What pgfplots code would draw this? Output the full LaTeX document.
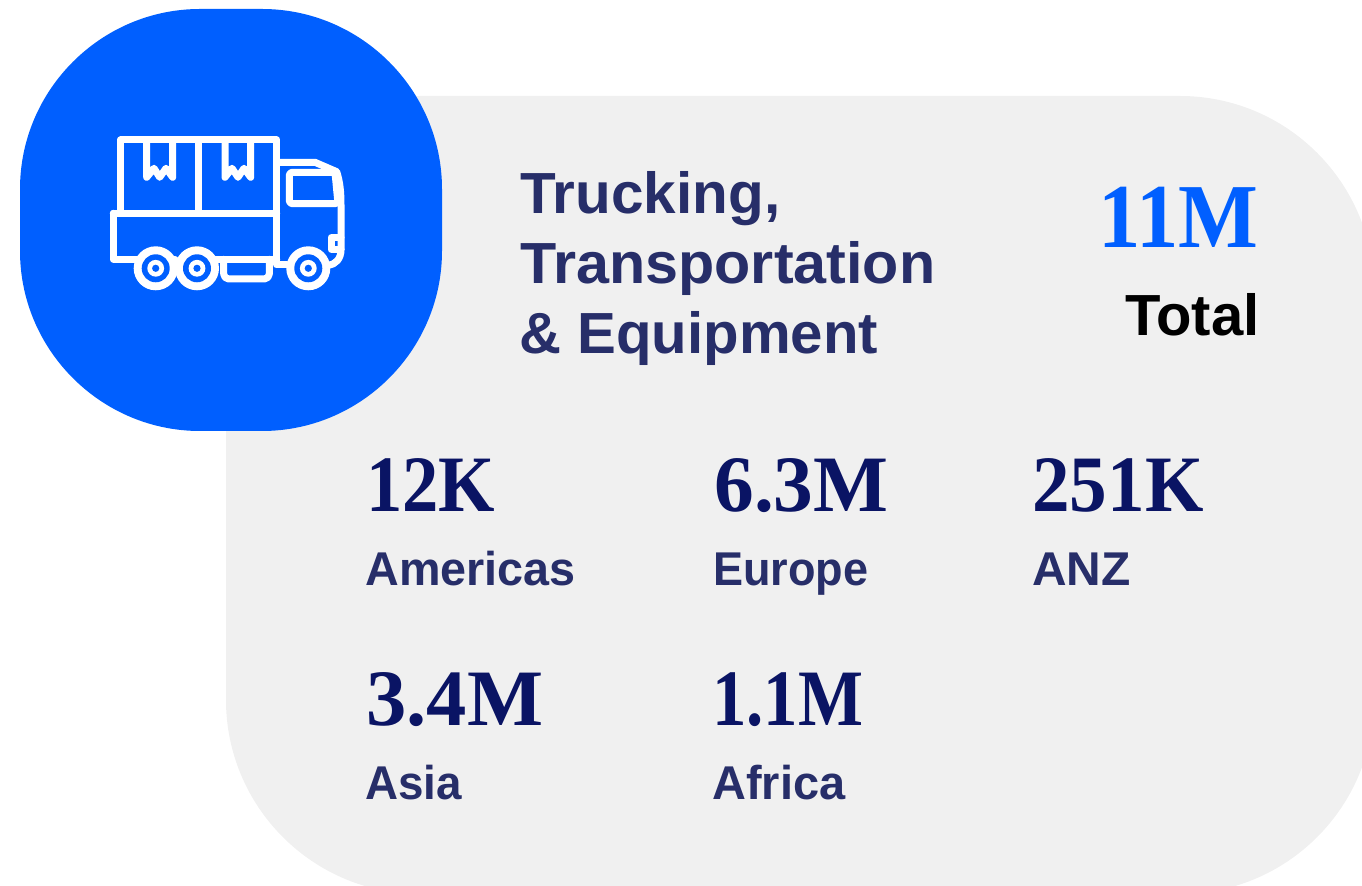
\documentclass[border=0pt]{standalone}
\usepackage{fontspec}
\usepackage{pgfplots}
\usepackage{pgfplotstable}
\pgfplotsset{compat=1.18}
\newfontfamily\sansb{Liberation Sans}
\newfontfamily\disp{Liberation Serif}
\definecolor{panel}{HTML}{F0F0F0}
\definecolor{brandblue}{HTML}{005FFF}
\definecolor{navy}{HTML}{0A1464}
\definecolor{slate}{HTML}{272E69}

% x, y (baseline, in px of the reference), horizontal squeeze, value
\pgfplotstableread{
x    y     xs    label
366  512   0.907 12K
714  512   0.992 6.3M
1032 512   0.939 251K
366  725.7 1.007 3.4M
712  725.7 0.860 1.1M
}\regions

\begin{document}
\begin{tikzpicture}
\path[use as bounding box] (0,0) rectangle (681pt,443pt);
\begin{axis}[
  at={(0,0)}, anchor=south west,
  scale only axis, width=681pt, height=443pt,
  xmin=0, xmax=1362, ymin=0, ymax=886, y dir=reverse,
  axis lines=none, ticks=none, enlargelimits=false]

% grey panel, runs off the right and the bottom
\fill[panel] (420,96) -- (1180,96)
  .. controls (1287,96) and (1374,183) .. (1374,290) -- (1374,700)
  .. controls (1374,807) and (1287,894) .. (1180,894) -- (420,894)
  .. controls (313,894) and (226,807) .. (226,700) -- (226,290)
  .. controls (226,183) and (313,96) .. (420,96) -- cycle;

% blue badge
\fill[brandblue] (200,9) -- (262,9)
  .. controls (361,9) and (442,90) .. (442,189) -- (442,251)
  .. controls (442,350) and (361,431) .. (262,431) -- (200,431)
  .. controls (101,431) and (20,350) .. (20,251) -- (20,189)
  .. controls (20,90) and (101,9) .. (200,9) -- cycle;

% truck icon
\begin{scope}[draw=white, line width=3.5pt, line cap=round, line join=round]
  \draw (120.7,213.3) -- (120.7,140) -- (276.7,140) -- (276.7,265) -- (287,265);
  \draw (198.7,140) -- (198.7,213.3);
  \draw (113.3,213.3) -- (276.7,213.3);
  \draw (175,259.3) -- (113.3,259.3) -- (113.3,213.3);
  \draw (215,259.3) -- (276.7,259.3);
  \draw (146.7,140) -- (146.7,177.3) -- (154,168.3) -- (159.7,177.3) -- (166,168.3) -- (172.7,177.3) -- (172.7,140);
  \draw (225,140) -- (225,177.3) -- (232,168.3) -- (238,177.3) -- (244,168.3) -- (250.7,177.3) -- (250.7,140);
  \draw[rounded corners=2.5pt] (223.7,259.3) -- (223.7,279) -- (269.3,279) -- (269.3,259.3);
  \draw (276.7,162.3) -- (315,162.3) -- (336.7,171.7)
     .. controls (340,182) and (341,192) .. (341,205) -- (341,250)
     .. controls (341,258) and (336,265) .. (328,265);
  \draw[rounded corners=1.5pt] (289.3,172.3) -- (335,172.3) -- (338,203.7) -- (289.3,203.7) -- cycle;
  \draw (341,237.7) -- (331,237.7) -- (331,249.3) -- (341,249.3);
\end{scope}
\foreach \cx in {155.7,197,308.3} {
  \edef\wheel{\noexpand\fill[white] (\cx,268.3) circle[radius=11pt];
    \noexpand\fill[brandblue] (\cx,268.3) circle[radius=7pt];
    \noexpand\fill[white] (\cx,268.3) circle[radius=4.2pt];
    \noexpand\fill[brandblue] (\cx,268.3) circle[radius=1.8pt];}
  \wheel
}

% heading
\node[anchor=base west, inner sep=0pt, xscale=1.008, text=slate, font=\sansb\bfseries\fontsize{29}{35}\selectfont] at (520,213.3) {Trucking,};
\node[anchor=base west, inner sep=0pt, xscale=1.022, text=slate, font=\sansb\bfseries\fontsize{29}{35}\selectfont] at (520,283.3) {Transportation};
\node[anchor=base west, inner sep=0pt, xscale=1.003, text=slate, font=\sansb\bfseries\fontsize{29}{35}\selectfont] at (519,353.3) {\& Equipment};

% total
\node[anchor=base east, inner sep=0pt, xscale=0.925, text=brandblue, font=\disp\bfseries\fontsize{45.7}{50}\selectfont] at (1259,247.3) {11M};
\node[anchor=base east, inner sep=0pt, text=black, font=\sansb\bfseries\fontsize{29}{35}\selectfont] at (1260,335.5) {Total};

% region values
\addplot[only marks, mark=none, point meta=explicit symbolic,
  visualization depends on={\thisrow{xs}\as\xs},
  nodes near coords,
  every node near coord/.append style={anchor=base west, inner sep=0pt, xscale=\xs,
    text=navy, font=\disp\bfseries\fontsize{40}{44}\selectfont}]
  table[x=x, y=y, meta=label] {\regions};

% region names
\foreach \px/\py/\xs/\name in {365/586/0.985/Americas, 713/586/0.95/Europe, 1032/586/1.01/ANZ, 365/799.5/0.965/Asia, 712/799.5/0.99/Africa} {
  \edef\lab{\noexpand\node[anchor=base west, inner sep=0pt, xscale=\xs, text=slate, font=\noexpand\sansb\noexpand\bfseries\noexpand\fontsize{23.7}{28}\noexpand\selectfont] at (\px,\py) {\name};}
  \lab
}
\end{axis}
\end{tikzpicture}
\end{document}
